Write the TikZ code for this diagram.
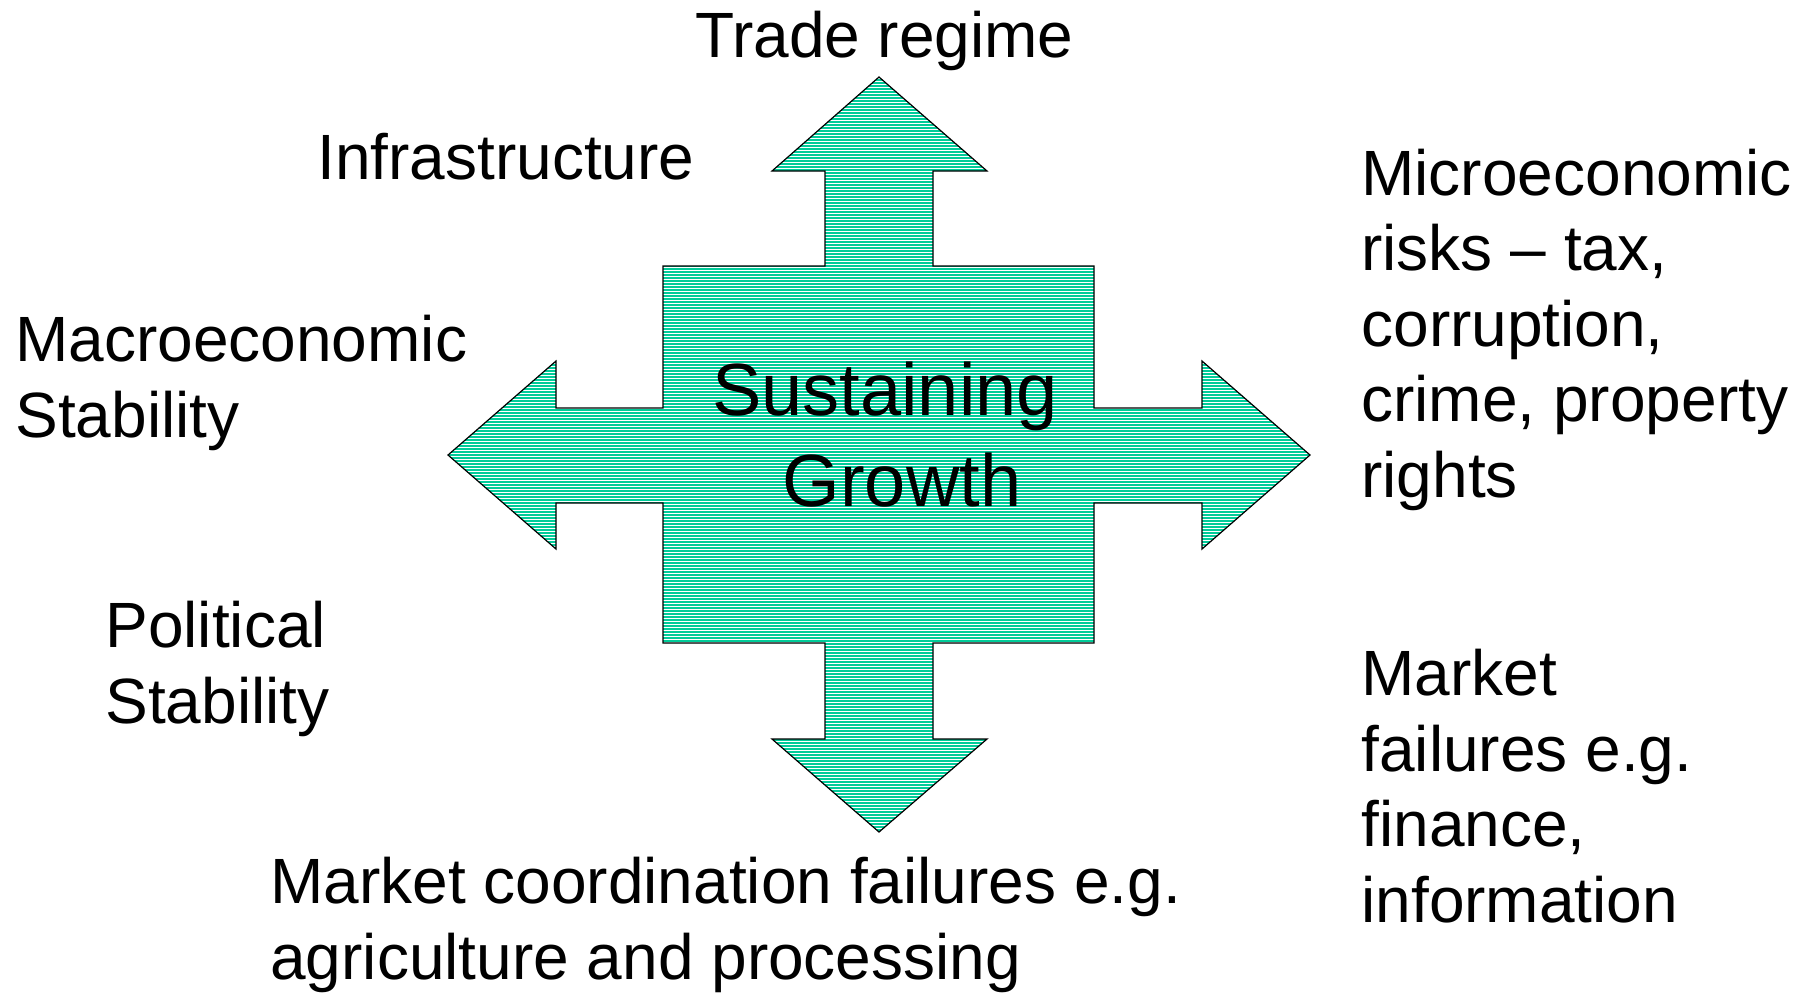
\documentclass[tikz,border=0pt]{standalone}
\usepackage{fontspec}
\setmainfont{Liberation Sans}
\definecolor{arrowgreen}{RGB}{0,204,153}
\tikzset{
  lbl/.style={anchor=base west, inner sep=0pt, align=left, font=\fontsize{32}{37.75}\selectfont},
  crossshape/.style={draw=black, line width=0.6pt, line join=miter},
}
\begin{document}
\begin{tikzpicture}[x=0.5pt,y=-0.5pt]
\useasboundingbox (0,0) rectangle (1807,993);
% cross of four arrows
\def\crosspath{(879,77) -- (987,171) -- (933,171) -- (933,266) -- (1094,266) -- (1094,408) -- (1202,408) -- (1202,361) -- (1310,455) -- (1202,549) -- (1202,503) -- (1094,503) -- (1094,643) -- (933,643) -- (933,739) -- (987,739) -- (879,832) -- (772,739) -- (825,739) -- (825,643) -- (663,643) -- (663,503) -- (556,503) -- (556,549) -- (448,455) -- (556,361) -- (556,408) -- (663,408) -- (663,266) -- (825,266) -- (825,171) -- (772,171) -- cycle}
\fill[arrowgreen] \crosspath;
\begin{scope}
  \clip \crosspath;
  \foreach \yy in {78,81,...,834} {
    \draw[white, line width=0.4pt] (440,\yy) -- (1320,\yy);
  }
\end{scope}
\draw[crossshape] \crosspath;
% centre text (anchor base = baseline of last line)
\node[anchor=base, inner sep=0pt, font=\fontsize{37}{45.5}\selectfont, align=center] (centre) at (885,506) {Sustaining\\\hspace*{17pt}Growth};
% labels (anchor base west = baseline of last line)
\node[lbl] (trade) at (695,57) {Trade regime};
\node[lbl] (infra) at (317,179) {Infrastructure};
\node[lbl] (macro) at (15,437) {Macroeconomic\\Stability};
\node[lbl] (polit) at (105,723) {Political\\Stability};
\node[lbl] (micro) at (1361,497) {Microeconomic\\risks – tax,\\corruption,\\crime, property\\rights};
\node[lbl] (market) at (1361,922) {Market\\failures e.g.\\finance,\\information};
\node[lbl] (coord) at (270,979) {Market coordination failures e.g.\\agriculture and processing};
\end{tikzpicture}
\end{document}
